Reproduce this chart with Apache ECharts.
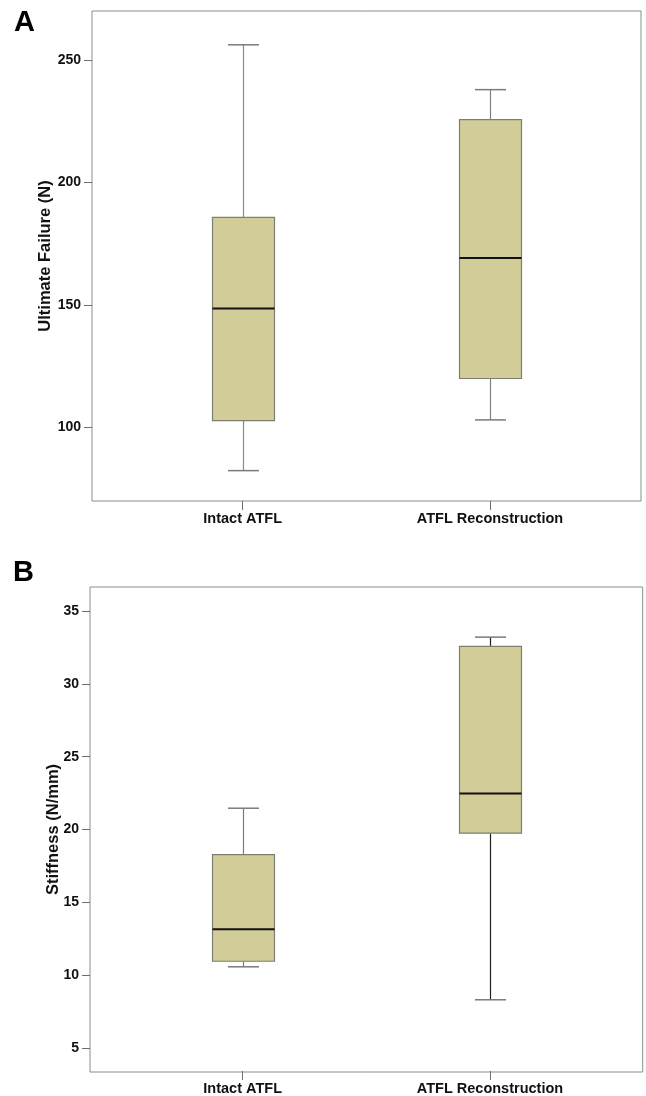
<!DOCTYPE html>
<html>
<head>
<meta charset="utf-8">
<script src="https://cdn.jsdelivr.net/npm/echarts@6/dist/echarts.min.js"></script>
<style>
html,body{margin:0;padding:0;background:#fff;}
#chart{width:646px;height:1096px;}
</style>
</head>
<body>
<div id="chart"></div>
<script>
// ---- data ----
const categories = ['Intact ATFL', 'ATFL Reconstruction'];
// each row: [lower whisker, Q1, median, Q3, upper whisker]
const failureStats = [
  [82.4, 102.8, 148.6, 185.8, 256.2],
  [103.1, 120.0, 169.2, 225.7, 237.9]
];
const stiffnessStats = [
  [10.52, 10.9, 13.1, 18.24, 21.43],
  [8.25, 19.71, 22.44, 32.56, 33.2]
];
const failureTicks = [100, 150, 200, 250];
const stiffnessTicks = [5, 10, 15, 20, 25, 30, 35];
const failureName = 'Ultimate Failure (N)';
const stiffnessName = 'Stiffness (N/mm)';

// ---- styles ----
const FONT = "'Liberation Sans', Arial, Helvetica, sans-serif";
const FRAME = '#8c8c8c';
const TICK = '#6e6e6e';
const BOX_FILL = '#d2cd98';
const BOX_EDGE = '#7f7f70';
const BOX_W = 62;
const CAP_W = 31;

function makeRender(whiskerColors) {
  return function (params, api) {
    const idx = api.value(0);
    const pMin = api.coord([idx, api.value(1)]);
    const pQ1 = api.coord([idx, api.value(2)]);
    const pMed = api.coord([idx, api.value(3)]);
    const pQ3 = api.coord([idx, api.value(4)]);
    const pMax = api.coord([idx, api.value(5)]);
    const cx = Math.round(pMed[0]) + 0.5;
    const hb = BOX_W / 2, hc = CAP_W / 2;
    const wc = whiskerColors[params.dataIndex];
    return {
      type: 'group',
      children: [
        {type: 'line', shape: {x1: cx, y1: pMax[1], x2: cx, y2: pQ3[1]}, style: {stroke: wc, lineWidth: 1.2}},
        {type: 'line', shape: {x1: cx, y1: pQ1[1], x2: cx, y2: pMin[1]}, style: {stroke: wc, lineWidth: 1.2}},
        {type: 'line', shape: {x1: cx - hc, y1: pMax[1], x2: cx + hc, y2: pMax[1]}, style: {stroke: '#7a7a7a', lineWidth: 1.5}},
        {type: 'line', shape: {x1: cx - hc, y1: pMin[1], x2: cx + hc, y2: pMin[1]}, style: {stroke: '#7a7a7a', lineWidth: 1.5}},
        {type: 'rect', shape: {x: cx - hb, y: pQ3[1], width: BOX_W, height: pQ1[1] - pQ3[1]},
          style: {fill: BOX_FILL, stroke: BOX_EDGE, lineWidth: 1.2}},
        {type: 'line', shape: {x1: cx - hb, y1: pMed[1], x2: cx + hb, y2: pMed[1]}, style: {stroke: '#111', lineWidth: 2}}
      ]
    };
  };
}

function toRows(stats) {
  return stats.map((s, i) => [i].concat(s));
}

const grids = [
  {left: 92, top: 11, width: 549, height: 490, show: true, borderColor: FRAME, borderWidth: 1, backgroundColor: 'transparent'},
  {left: 119, top: 11, width: 494.6, height: 490},
  {left: 90, top: 587, width: 552.7, height: 485, show: true, borderColor: FRAME, borderWidth: 1, backgroundColor: 'transparent'},
  {left: 119, top: 587, width: 494.6, height: 485}
];

function hiddenCat(g) {
  return {type: 'category', gridIndex: g, data: categories, show: false};
}
function visibleCat(g) {
  return {
    type: 'category', gridIndex: g, data: categories, boundaryGap: true,
    axisLine: {show: false},
    axisTick: {show: true, alignWithLabel: true, length: 9, lineStyle: {color: TICK, width: 1}},
    axisLabel: {show: true, margin: 10, color: '#111', fontFamily: FONT, fontWeight: 'bold', fontSize: 14.5},
    splitLine: {show: false}
  };
}
function visibleY(g, min, max, ticks, name, gap) {
  return {
    type: 'value', gridIndex: g, min: min, max: max,
    name: name, nameLocation: 'middle', nameGap: gap, nameRotate: 90, nameMoveOverlap: false,
    nameTextStyle: {color: '#111', fontFamily: FONT, fontWeight: 'bold', fontSize: 16.5},
    axisLine: {show: false},
    axisTick: {show: true, length: 8, lineStyle: {color: TICK, width: 1}, customValues: ticks},
    axisLabel: {show: true, margin: 11, color: '#111', fontFamily: FONT, fontWeight: 'bold', fontSize: 14, customValues: ticks},
    splitLine: {show: false}
  };
}
function hiddenY(g, min, max) {
  return {type: 'value', gridIndex: g, min: min, max: max, show: false, splitLine: {show: false}};
}

const option = {
  animation: false,
  backgroundColor: '#fff',
  title: [
    {text: 'A', left: 14, top: 8, padding: 0, textStyle: {fontFamily: FONT, fontWeight: 'bold', fontSize: 29, color: '#000'}},
    {text: 'B', left: 13, top: 558, padding: 0, textStyle: {fontFamily: FONT, fontWeight: 'bold', fontSize: 29, color: '#000'}}
  ],
  grid: grids,
  xAxis: [hiddenCat(0), visibleCat(1), hiddenCat(2), visibleCat(3)],
  yAxis: [
    visibleY(0, 70, 270, failureTicks, failureName, 38),
    hiddenY(1, 70, 270),
    visibleY(2, 3.35, 36.65, stiffnessTicks, stiffnessName, 28),
    hiddenY(3, 3.35, 36.65)
  ],
  series: [
    {type: 'custom', name: failureName, xAxisIndex: 1, yAxisIndex: 1,
      renderItem: makeRender(['#8a8a8a', '#808080']),
      encode: {x: 0, y: [1, 2, 3, 4, 5]}, data: toRows(failureStats)},
    {type: 'custom', name: stiffnessName, xAxisIndex: 3, yAxisIndex: 3,
      renderItem: makeRender(['#7a7a7a', '#1e1e1e']),
      encode: {x: 0, y: [1, 2, 3, 4, 5]}, data: toRows(stiffnessStats)}
  ]
};

const chart = echarts.init(document.getElementById('chart'), null, {renderer: 'canvas'});
chart.setOption(option);
</script>
</body>
</html>
